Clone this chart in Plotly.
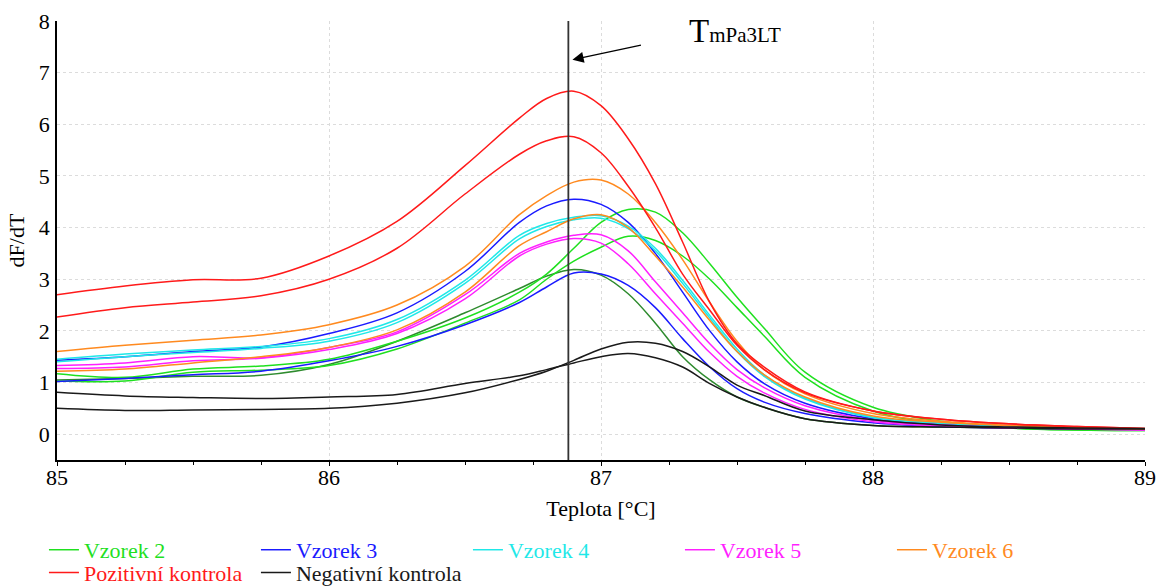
import plotly.graph_objects as go

# Melting-curve derivative data (dF/dT) sampled along temperature
temp = [85.0, 85.25, 85.5, 85.75, 86.0, 86.25, 86.5, 86.7, 86.8, 86.9, 87.0, 87.1,
        87.2, 87.3, 87.4, 87.5, 87.6, 87.75, 88.0, 88.25, 88.5, 88.75, 89.0]

vzorek2_a = [1.17, 1.10, 1.26, 1.32, 1.45, 1.80, 2.25, 2.75, 3.10, 3.60, 4.10, 4.35,
             4.30, 3.90, 3.30, 2.65, 2.05, 1.20, 0.52, 0.25, 0.12, 0.08, 0.07]
vzorek2_b = [1.03, 1.03, 1.20, 1.24, 1.33, 1.65, 2.15, 2.60, 3.00, 3.35, 3.62, 3.83,
             3.75, 3.45, 3.00, 2.45, 1.90, 1.10, 0.45, 0.20, 0.12, 0.08, 0.07]
vzorek3_a = [1.43, 1.50, 1.60, 1.69, 1.95, 2.35, 3.15, 4.10, 4.42, 4.55, 4.45, 4.10,
             3.50, 2.75, 2.00, 1.40, 0.98, 0.60, 0.30, 0.20, 0.15, 0.12, 0.10]
vzorek3_b = [1.02, 1.08, 1.15, 1.22, 1.42, 1.70, 2.12, 2.55, 2.85, 3.12, 3.10, 2.88,
             2.45, 1.85, 1.30, 0.88, 0.62, 0.40, 0.22, 0.15, 0.12, 0.10, 0.09]
vzorek4_a = [1.45, 1.55, 1.63, 1.70, 1.85, 2.22, 2.98, 3.85, 4.08, 4.20, 4.23, 4.03,
             3.60, 2.98, 2.30, 1.65, 1.15, 0.70, 0.33, 0.22, 0.16, 0.13, 0.10]
vzorek4_b = [1.40, 1.50, 1.58, 1.66, 1.80, 2.16, 2.92, 3.78, 4.02, 4.15, 4.18, 3.98,
             3.55, 2.92, 2.25, 1.60, 1.12, 0.68, 0.32, 0.21, 0.15, 0.12, 0.10]
vzorek5_a = [1.33, 1.38, 1.50, 1.48, 1.68, 1.98, 2.70, 3.50, 3.72, 3.85, 3.86, 3.55,
             2.95, 2.35, 1.75, 1.25, 0.90, 0.55, 0.27, 0.18, 0.13, 0.10, 0.08]
vzorek5_b = [1.27, 1.30, 1.42, 1.47, 1.64, 1.95, 2.62, 3.45, 3.68, 3.79, 3.70, 3.30,
             2.72, 2.15, 1.58, 1.12, 0.80, 0.48, 0.24, 0.16, 0.12, 0.10, 0.08]
vzorek6_a = [1.60, 1.72, 1.82, 1.92, 2.12, 2.50, 3.25, 4.25, 4.62, 4.88, 4.92, 4.65,
             4.10, 3.38, 2.55, 1.80, 1.25, 0.78, 0.40, 0.25, 0.17, 0.13, 0.10]
vzorek6_b = [1.22, 1.26, 1.38, 1.50, 1.68, 2.02, 2.75, 3.65, 3.92, 4.17, 4.25, 4.00,
             3.45, 2.85, 2.20, 1.60, 1.15, 0.72, 0.35, 0.23, 0.17, 0.13, 0.10]
vzorek_extra = [1.05, 1.08, 1.12, 1.14, 1.35, 1.80, 2.35, 2.82, 3.06, 3.19, 3.08, 2.72,
                2.15, 1.50, 1.05, 0.72, 0.52, 0.30, 0.17, 0.14, 0.12, 0.10, 0.10]
pozitivni_a = [2.70, 2.87, 2.99, 3.02, 3.45, 4.12, 5.20, 6.12, 6.50, 6.64, 6.36, 5.72,
               4.85, 3.72, 2.55, 1.75, 1.30, 0.82, 0.45, 0.29, 0.20, 0.15, 0.11]
pozitivni_b = [2.27, 2.45, 2.56, 2.68, 3.00, 3.60, 4.65, 5.42, 5.68, 5.76, 5.45, 4.80,
               4.00, 3.10, 2.40, 1.72, 1.25, 0.80, 0.45, 0.29, 0.20, 0.15, 0.11]
negativni_a = [0.81, 0.74, 0.71, 0.69, 0.72, 0.77, 0.98, 1.13, 1.25, 1.38, 1.50, 1.56,
               1.48, 1.30, 0.98, 0.72, 0.52, 0.30, 0.17, 0.14, 0.12, 0.10, 0.10]
negativni_b = [0.50, 0.46, 0.47, 0.48, 0.50, 0.60, 0.80, 1.06, 1.22, 1.43, 1.65, 1.78,
               1.76, 1.60, 1.30, 0.95, 0.75, 0.45, 0.28, 0.18, 0.14, 0.12, 0.11]

tm_value = 86.88  # melting temperature marker

x_ticks = [85, 86, 87, 88, 89]
y_ticks = [0, 1, 2, 3, 4, 5, 6, 7, 8]

# (legend label, colour, replicate curves, legend row)
groups = [
    ("Vzorek 2", "#1fe01f", [vzorek2_a, vzorek2_b], "legend"),
    ("Vzorek 3", "#1a1aff", [vzorek3_a, vzorek3_b], "legend"),
    ("Vzorek 4", "#1fe8e8", [vzorek4_a, vzorek4_b], "legend"),
    ("Vzorek 5", "#ff1fff", [vzorek5_a, vzorek5_b], "legend"),
    ("Vzorek 6", "#ff8a1f", [vzorek6_a, vzorek6_b], "legend"),
    ("Pozitivní kontrola", "#ff1a1a", [pozitivni_a, pozitivni_b], "legend2"),
    ("Negativní kontrola", "#1a1a1a", [negativni_a, negativni_b], "legend2"),
]

FONT = "Liberation Serif"
LINE = dict(width=1.5, shape="spline", smoothing=1.0)

fig = go.Figure()

# Extra trace without legend entry
fig.add_trace(go.Scatter(
    x=temp, y=vzorek_extra, mode="lines", showlegend=False,
    line=dict(color="#2e8b2e", **LINE), hoverinfo="skip",
))

for name, color, series, leg in groups:
    for i, ys in enumerate(series):
        fig.add_trace(go.Scatter(
            x=temp, y=ys, mode="lines",
            name=f"<span style='color:{color}'>{name}</span>",
            legendgroup=name, showlegend=(i == 0), legend=leg,
            line=dict(color=color, **LINE),
        ))

# Vertical Tm marker
fig.add_shape(type="line", x0=tm_value, x1=tm_value, xref="x", y0=0, y1=1, yref="paper",
              line=dict(color="#333333", width=1.8), layer="above")

# Arrow pointing to the marker
fig.add_annotation(x=tm_value + 0.015, y=7.25, xref="x", yref="y", text="",
                   showarrow=True, ax=70, ay=-15, axref="pixel", ayref="pixel",
                   arrowhead=2, arrowsize=1.6, arrowwidth=1.4, arrowcolor="#000000",
                   standoff=0)

# Label for the marker
fig.add_annotation(x=87.316, y=7.8, xref="x", yref="y", xanchor="left", yanchor="middle",
                   text="T<span style='font-size:21px'>mPa3LT</span>", showarrow=False,
                   font=dict(family=FONT, size=33, color="#000000"))

legend_style = dict(orientation="h", x=-0.012, xanchor="left", yanchor="top",
                    entrywidth=167, entrywidthmode="pixels", tracegroupgap=0,
                    font=dict(family=FONT, size=22), itemwidth=30,
                    bgcolor="rgba(0,0,0,0)")

fig.update_layout(
    width=1161, height=588,
    margin=dict(l=57, r=16, t=21, b=128, autoexpand=False),
    paper_bgcolor="white", plot_bgcolor="white",
    font=dict(family=FONT, size=22, color="#000000"),
    showlegend=True,
    legend=dict(y=-0.157, **legend_style),
    legend2=dict(y=-0.209, **legend_style),
    xaxis=dict(
        range=[85, 89], tickmode="array", tickvals=x_ticks,
        ticks="outside", ticklen=4, tickcolor="#000000",
        showline=True, linecolor="#000000", linewidth=1.5,
        showgrid=True, gridcolor="#dcdcdc", griddash="3px,3px", gridwidth=1,
        zeroline=False, ticklabelstandoff=-7,
        minor=dict(dtick=0.25, ticks="outside", ticklen=3, tickcolor="#000000", showgrid=False),
        title=dict(text="Teplota [°C]", standoff=11, font=dict(family=FONT, size=22)),
        tickfont=dict(family=FONT, size=22),
    ),
    yaxis=dict(
        range=[-0.5, 8], tickmode="array", tickvals=y_ticks,
        ticks="", showline=True, linecolor="#000000", linewidth=1.5,
        showgrid=True, gridcolor="#dcdcdc", griddash="3px,3px", gridwidth=1,
        zeroline=False, ticklabelstandoff=1,
        title=dict(text="dF/dT", standoff=8, font=dict(family=FONT, size=22)),
        tickfont=dict(family=FONT, size=22),
    ),
)

fig.write_html("out.html")
